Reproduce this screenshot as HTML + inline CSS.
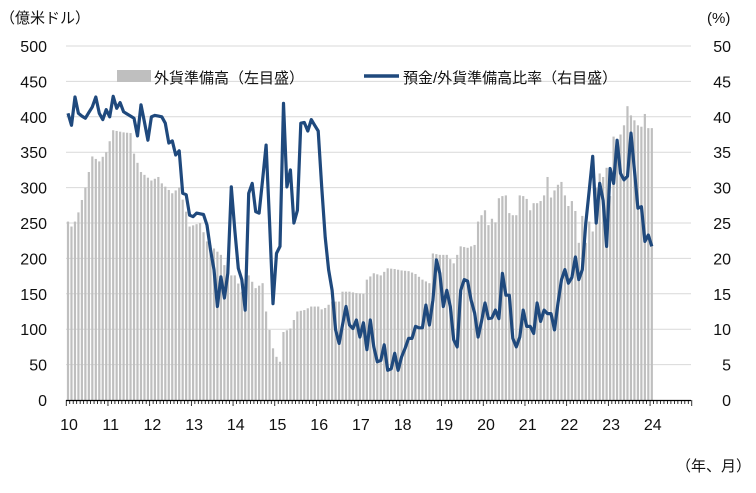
<!DOCTYPE html>
<html><head><meta charset="utf-8"><style>
body{margin:0;background:#fff;}
svg text{font-family:"Liberation Sans","Noto Sans CJK JP",sans-serif;fill:#111;}
</style></head><body>
<svg id="c" width="756" height="488" xmlns="http://www.w3.org/2000/svg">
<rect width="756" height="488" fill="#fff"/>
<g id="grid"></g><g id="bars"></g><g id="axis"></g>
<polyline id="line" fill="none" stroke="#1f497d" stroke-width="3.2" stroke-linejoin="round"/>
<text x="0" y="23" font-size="15">（億米ドル）</text>
<text x="707" y="23" font-size="15">(%)</text>
<rect x="117" y="70" width="34" height="12" fill="#bfbfbf"/>
<text x="154" y="83" font-size="15">外貨準備高（左目盛）</text>
<line x1="364" y1="76" x2="399" y2="76" stroke="#1f497d" stroke-width="3.5"/>
<text x="403" y="83" font-size="15">預金/外貨準備高比率（右目盛）</text>
<text x="676" y="471" font-size="15">（年、月）</text>
<g id="lbl" font-size="16"></g>
</svg>
<script>
var NS="http://www.w3.org/2000/svg";
function el(p,t,a,txt){var e=document.createElementNS(NS,t);for(var k in a)e.setAttribute(k,a[k]);if(txt!=null)e.textContent=txt;document.getElementById(p).appendChild(e);return e;}
var X0=68,DX=41.7/12,Y0=400,SC=0.708;
function X(m){return X0+m*DX;}
for(var i=0;i<=10;i++){var y=Y0-i*50*SC;
 if(i>0)el("grid","line",{x1:66,x2:691,y1:y,y2:y,stroke:"#d9d9d9","stroke-width":1});
 el("lbl","text",{x:47,y:y+6,"text-anchor":"end"},String(i*50));
 el("lbl","text",{x:731,y:y+6,"text-anchor":"end"},String(i*5));}
for(var yr=10;yr<=24;yr++)el("lbl","text",{x:X((yr-10)*12)+1,y:430,"text-anchor":"middle"},String(yr));
var ba=[[0,252],[1,245],[2,252],[3,265],[5,300],[7,344],[9,337],[11,350],[13,381],[16,378],[18,377],[19,348],[20,335],[21,322],[24,310],[26,315],[27,306],[30,292],[32,300],[34,266],[35,245],[38,250],[40,224],[42,214],[44,205],[46,176],[48,176],[50,153],[52,176],[54,158],[56,165],[57,125],[58,99],[59,73],[60,61],[61,54],[62,96],[64,101],[66,125],[68,127],[70,132],[72,132],[73,128],[74,130],[76,139],[78,139],[79,153],[81,153],[83,151],[85,150],[86,170],[88,179],[90,176],[92,186],[94,185],[96,183],[98,182],[100,178],[102,170],[104,165],[105,207],[107,205],[109,205],[111,193],[112,205],[113,217],[115,215],[117,219],[118,252],[119,261],[120,268],[121,247],[122,256],[123,251],[124,285],[125,288],[126,289],[127,264],[128,261],[129,261],[130,289],[131,288],[132,284],[133,268],[134,278],[135,278],[136,281],[137,289],[138,315],[139,286],[140,296],[141,304],[142,308],[143,289],[144,274],[145,281],[146,267],[147,222],[148,260],[149,222],[150,252],[151,238],[152,300],[153,320],[154,315],[155,328],[156,288],[157,372],[158,360],[159,375],[160,388],[161,415],[162,402],[163,395],[164,388],[165,386],[166,404],[167,384],[168,384]];
function interp(a,m){for(var i=0;i<a.length-1;i++){if(m>=a[i][0]&&m<=a[i+1][0]){var t=(m-a[i][0])/(a[i+1][0]-a[i][0]||1);return a[i][1]+t*(a[i+1][1]-a[i][1]);}}return a[a.length-1][1];}
for(var m=0;m<=168;m++){var v=interp(ba,m);el("bars","rect",{x:X(m)-1.1,y:Y0-v*SC,width:2.2,height:v*SC,fill:"#bfbfbf"});}
var L=[40.5,38.8,42.8,40.5,40.1,39.8,40.6,41.4,42.8,40.5,39.6,41,40,42.9,41.2,42,40.7,40.4,40.1,39.8,37.3,41.7,39.3,36.7,40,40.2,40.1,40,39.1,36.3,36.6,34.6,35.2,29.2,29,26.1,25.9,26.4,26.3,26.2,24.7,21.2,18.4,13.2,17.4,14.4,17.9,30.1,24,18.6,17,12.7,29.2,30.6,26.6,26.4,31.1,36,25,13.6,20.7,21.7,41.9,30.1,32.5,25,26.8,39.1,39.2,38,39.6,38.8,38,30.1,23,18.4,15.5,9.9,8,10.6,13.2,10.6,10.1,11.3,8.9,10.9,7.1,11.3,7.5,5.4,5.6,7.8,4.2,4.4,6.6,4.2,6.1,7.3,8.7,8.7,10.4,10.2,10.2,13.4,10.6,14.1,19.8,17.9,13.2,15.5,13.2,8.5,7.5,15.5,17,16.8,14.1,12.3,8.9,11.1,13.7,11.5,11.6,12.7,11.5,17.9,14.8,14.8,8.7,7.5,8.9,12.7,10.4,10.4,9.4,13.7,11.1,12.7,12.2,12.2,9.9,13.7,17,18.4,16.5,17.3,20.2,17,18.4,25,29.7,34.4,25,30.6,28.2,21.7,32.7,30.6,36.7,32,31.1,31.6,37.7,32.5,27.1,27.3,22.4,23.3,21.7];
var pts=L.map(function(p,m){return X(m).toFixed(1)+","+(Y0-p*7.08).toFixed(1);}).join(" ");
document.getElementById("line").setAttribute("points",pts);
el("axis","line",{x1:66,x2:691,y1:400.5,y2:400.5,stroke:"#000","stroke-width":1.2});
for(var m=0;m<=180;m++){var x=X(m)-DX/2;el("axis","line",{x1:x,x2:x,y1:400,y2:m%12==0?406:404,stroke:"#000","stroke-width":0.8});}
</script>
</body></html>
